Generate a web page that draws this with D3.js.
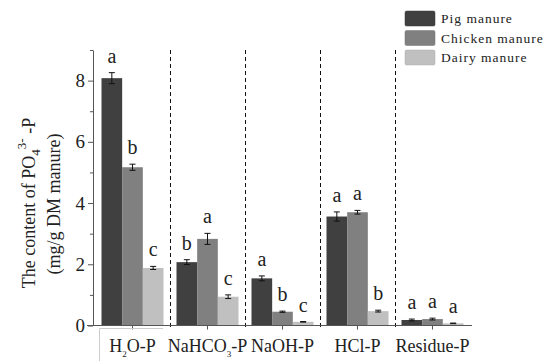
<!DOCTYPE html>
<html>
<head>
<meta charset="utf-8">
<script src="https://cdn.jsdelivr.net/npm/d3@7"></script>
<style>
  body { margin: 0; background: #fff; }
</style>
</head>
<body>
<div class="chart"></div>
<script>
// P fractions and manure types
var fractions = ["H2O-P", "NaHCO3-P", "NaOH-P", "HCl-P", "Residue-P"],
    manures = ["Pig manure", "Chicken manure", "Dairy manure"],
    colors = ["#404040", "#808080", "#c0c0c0"];

// means (mg/g DM) per manure, one value per fraction
var pigValues     = [8.08, 2.07, 1.54, 3.56, 0.18],
    chickenValues = [5.17, 2.83, 0.45, 3.70, 0.21],
    dairyValues   = [1.88, 0.94, 0.12, 0.47, 0.07];
// standard errors
var pigErr     = [0.18, 0.08, 0.08, 0.15, 0.03],
    chickenErr = [0.10, 0.18, 0.02, 0.06, 0.03],
    dairyErr   = [0.05, 0.06, 0.01, 0.03, 0.01];
// significance letters
var pigLetters     = ["a", "b", "a", "a", "a"],
    chickenLetters = ["b", "a", "b", "a", "a"],
    dairyLetters   = ["c", "c", "c", "b", "a"];

var yMajor = [0, 2, 4, 6, 8],
    yMinor = [1, 3, 5, 7, 9];

var width = 545, height = 361,
    serif = "'Liberation Serif', 'Times New Roman', serif";

var svg = d3.select(".chart").append("svg")
    .attr("width", width)
    .attr("height", height)
    .style("font-family", serif);

// scales
var x = d3.scaleBand().domain(fractions).range([95, 470]).padding(0),
    xSub = d3.scaleBand().domain(manures).range([6.5, x.bandwidth() - 6.5]).padding(0),
    y = d3.scaleLinear().domain([0, 9]).range([325.5, 50]);

// build rows from the arrays
var vals = [pigValues, chickenValues, dairyValues],
    errs = [pigErr, chickenErr, dairyErr],
    lets = [pigLetters, chickenLetters, dairyLetters];
var rows = [];
fractions.forEach(function(f, i) {
    manures.forEach(function(m, j) {
        rows.push({fraction: f, manure: m, value: vals[j][i], err: errs[j][i], letter: lets[j][i], color: colors[j]});
    });
});

// dashed separators between fractions
svg.selectAll(".sep")
    .data(fractions.slice(1))
  .enter().append("line")
    .attr("class", "sep")
    .attr("x1", function(d) { return x(d) + 0.5; })
    .attr("x2", function(d) { return x(d) + 0.5; })
    .attr("y1", 50)
    .attr("y2", 328)
    .attr("stroke", "#111")
    .attr("stroke-width", 1)
    .attr("stroke-dasharray", "4,3");

// bars
var bars = svg.selectAll(".bar")
    .data(rows)
  .enter().append("g")
    .attr("class", "bar")
    .attr("transform", function(d) { return "translate(" + (x(d.fraction) + xSub(d.manure)) + ",0)"; });

bars.append("rect")
    .attr("x", 0)
    .attr("y", function(d) { return y(d.value); })
    .attr("width", xSub.bandwidth())
    .attr("height", function(d) { return y(0) - y(d.value); })
    .attr("fill", function(d) { return d.color; });

// error bars
var bw = xSub.bandwidth();
bars.append("path")
    .attr("d", function(d) {
        var cx = bw / 2, t = y(d.value + d.err), b = y(d.value - d.err);
        return "M" + (cx - 3) + "," + t + "H" + (cx + 3) +
               "M" + cx + "," + t + "V" + b +
               "M" + (cx - 3) + "," + b + "H" + (cx + 3);
    })
    .attr("stroke", "#111")
    .attr("stroke-width", 1)
    .attr("fill", "none");

// letters
bars.append("text")
    .attr("x", bw / 2)
    .attr("y", function(d) { return y(d.value + d.err) - 10; })
    .attr("text-anchor", "middle")
    .style("font-family", serif)
    .style("font-size", "20px")
    .style("fill", "#222")
    .text(function(d) { return d.letter; });

// y axis
var yAxis = svg.append("g")
    .attr("transform", "translate(93,0)")
    .call(d3.axisLeft(y).tickValues(yMajor).tickSize(5).tickSizeOuter(0).tickPadding(3));
yAxis.selectAll("text")
    .style("font-family", serif)
    .style("font-size", "19px")
    .style("fill", "#222");
svg.append("g")
    .attr("transform", "translate(93,0)")
    .call(d3.axisLeft(y).tickValues(yMinor).tickSize(3).tickSizeOuter(0).tickFormat(""))
    .select(".domain").remove();
svg.selectAll(".tick line, .domain").attr("stroke", "#555");

// x axis
var xAxis = svg.append("g")
    .attr("transform", "translate(0,325.5)")
    .call(d3.axisBottom(x).tickSize(4).tickSizeOuter(0).tickFormat(""));
xAxis.select(".domain").remove();
xAxis.selectAll("line").attr("stroke", "#555");
svg.append("line")
    .attr("x1", 87).attr("x2", 472)
    .attr("y1", 325.5).attr("y2", 325.5)
    .attr("stroke", "#555");

// faint box around first label
svg.append("path")
    .attr("d", "M99.5,361V328.5H163")
    .attr("fill", "none")
    .attr("stroke", "#ccc");

// x labels with subscripts
var labelParts = {
    "H2O-P": [["H", 0], ["2", 1], ["O-P", 0]],
    "NaHCO3-P": [["NaHCO", 0], ["3", 1], ["-P", 0]],
    "NaOH-P": [["NaOH-P", 0]],
    "HCl-P": [["HCl-P", 0]],
    "Residue-P": [["Residue-P", 0]]
};
fractions.forEach(function(f) {
    var t = svg.append("text")
        .attr("x", x(f) + x.bandwidth() / 2)
        .attr("y", 352)
        .attr("text-anchor", "middle")
        .style("font-family", serif)
        .style("font-size", "18px")
        .style("fill", "#222");
    var prevSub = false;
    labelParts[f].forEach(function(p) {
        var ts = t.append("tspan").text(p[0]);
        if (p[1]) { ts.attr("dy", 5).style("font-size", "9px"); prevSub = true; }
        else if (prevSub) { ts.attr("dy", -5); prevSub = false; }
    });
});

// y title
var t1 = svg.append("text")
    .attr("transform", "translate(35,203) rotate(-90)")
    .attr("text-anchor", "middle")
    .style("font-family", serif)
    .style("font-size", "18px")
    .style("fill", "#222");
t1.append("tspan").text("The content of PO");
t1.append("tspan").text("4").attr("dy", 5).style("font-size", "13px");
t1.append("tspan").text("3-").attr("dy", -14).style("font-size", "13px");
t1.append("tspan").text(" -P").attr("dy", 9);

svg.append("text")
    .attr("transform", "translate(60,204) rotate(-90)")
    .attr("text-anchor", "middle")
    .style("font-family", serif)
    .style("font-size", "18px")
    .style("fill", "#222")
    .text("(mg/g DM manure)");

// legend
var legend = svg.selectAll(".legend")
    .data(manures)
  .enter().append("g")
    .attr("class", "legend")
    .attr("transform", function(d, i) { return "translate(405," + (11 + i * 19.5) + ")"; });

legend.append("rect")
    .attr("width", 30)
    .attr("height", 15)
    .attr("rx", 1.5)
    .attr("fill", function(d, i) { return colors[i]; })
    .attr("stroke", function(d, i) { return d3.color(colors[i]).darker(0.3); })
    .attr("stroke-width", 0.5);

legend.append("text")
    .attr("x", 36)
    .attr("y", 12)
    .style("font-family", serif)
    .style("font-size", "13.5px")
    .style("letter-spacing", "1px")
    .style("fill", "#222")
    .text(function(d) { return d; });
</script>
</body>
</html>
